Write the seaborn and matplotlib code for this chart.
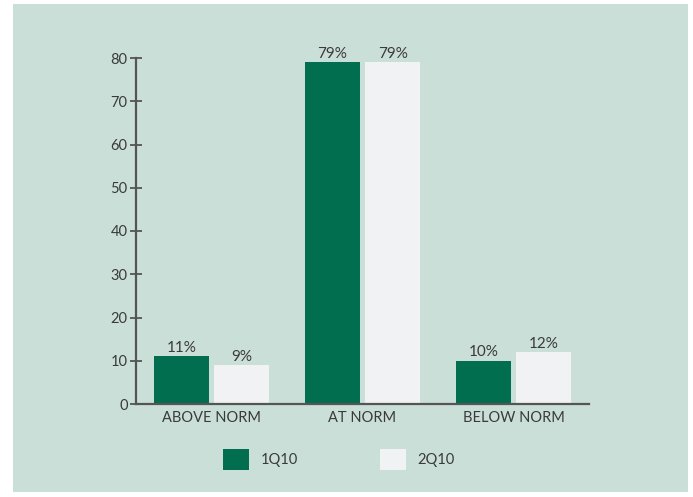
import matplotlib
matplotlib.use("Agg")
import matplotlib.pyplot as plt
import matplotlib.patches as mpatches
import seaborn as sns
import pandas as pd

categories = ["ABOVE NORM", "AT NORM", "BELOW NORM"]
series = ["1Q10", "2Q10"]
values_1q10 = [11, 79, 10]
values_2q10 = [9, 79, 12]
yticks = [0, 10, 20, 30, 40, 50, 60, 70, 80]

df = pd.DataFrame({
    "category": categories * 2,
    "period": [series[0]] * 3 + [series[1]] * 3,
    "value": values_1q10 + values_2q10,
})

sns.set_theme(style="white")
plt.rcParams["font.family"] = ["Lato", "DejaVu Sans"]

W, H = 693, 497
fig = plt.figure(figsize=(W / 100, H / 100), dpi=100, facecolor="white")
bg = mpatches.Rectangle((13 / W, 1 - 492 / H), (688 - 13) / W, (492 - 4) / H,
                        transform=fig.transFigure, facecolor="#cbdfd9",
                        edgecolor="none", zorder=-10)
fig.patches.append(bg)

ax = fig.add_axes([136 / W, 1 - 404 / H, (589 - 136) / W, (404 - 58) / H])
ax.set_facecolor("none")

palette = {"1Q10": "#006e4f", "2Q10": "#f0f2f3"}
sns.barplot(data=df, x="category", y="value", hue="period", order=categories,
            hue_order=series, palette=palette, width=0.8, gap=0.08,
            saturation=1, linewidth=0, ax=ax, legend=True)

text_color = "#3a3a3a"
for cont in ax.containers:
    ax.bar_label(cont, labels=[f"{int(v.get_height())}%" for v in cont],
                 padding=1, fontsize=11, color=text_color)

ax.set_xlim(-0.5, 2.5)
ax.set_ylim(0, 80)
ax.set_yticks(yticks)
ax.set_xlabel("")
ax.set_ylabel("")
for s in ["top", "right"]:
    ax.spines[s].set_visible(False)
for s in ["left", "bottom"]:
    ax.spines[s].set_color("#555555")
    ax.spines[s].set_linewidth(1.6)
ax.tick_params(axis="y", direction="inout", length=8, width=1.3,
               color="#555555", labelsize=10.5, labelcolor=text_color, left=True, pad=2)
ax.tick_params(axis="x", length=0, labelsize=10.5, labelcolor=text_color, pad=5)

handles, labels = ax.get_legend_handles_labels()
for h in handles:
    h.set_linewidth(0)
ax.legend(handles, labels, loc="center", bbox_to_anchor=(0.448, -0.16),
          ncol=2, frameon=False, fontsize=10.5, handlelength=1.8,
          handleheight=1.8, handletextpad=0.8, columnspacing=5.6,
          labelcolor=text_color)

fig.savefig("out.png", dpi=100, facecolor="white")
